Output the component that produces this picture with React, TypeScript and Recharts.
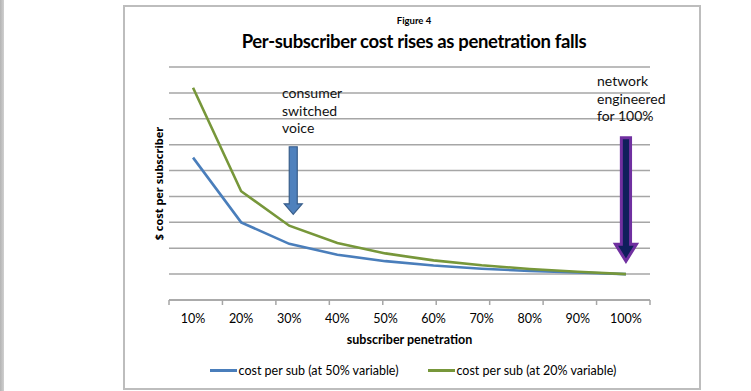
import { CartesianGrid, Legend, Line, LineChart, ReferenceLine, XAxis, YAxis } from "recharts";

const penetration = ["10%", "20%", "30%", "40%", "50%", "60%", "70%", "80%", "90%", "100%"];
const costAt50Variable = [5.5, 3.0, 2.17, 1.75, 1.5, 1.33, 1.21, 1.12, 1.06, 1.0];
const costAt20Variable = [8.2, 4.2, 2.87, 2.2, 1.8, 1.53, 1.34, 1.2, 1.09, 1.0];
const gridTicks = [0, 1, 2, 3, 4, 5, 6, 7, 8, 9];
const boundaryTicks = [0, 1, 2, 3, 4, 5, 6, 7, 8, 9, 10];

const data = penetration.map((label, i) => ({
  label,
  sub50: costAt50Variable[i],
  sub20: costAt20Variable[i],
}));

const FONT = "Lato, 'Open Sans', sans-serif";
const BLUE = "#4a7ebb";
const GREEN = "#77973a";

// ticks must be truthy or recharts drops grid lines / tick marks
const EmptyTick = () => <g />;

// block arrow pointing down, drawn between the reference line end points
function makeArrow(opts: {
  fill: string;
  stroke: string;
  strokeWidth: number;
  shaft: number;
  head: number;
  headLen: number;
  dx: number;
}) {
  return (props: any) => {
    const x = props.x1 + opts.dx;
    const top = Math.min(props.y1, props.y2);
    const tip = Math.max(props.y1, props.y2);
    const hy = tip - opts.headLen;
    const d = [
      `M${x - opts.shaft},${top}`,
      `L${x + opts.shaft},${top}`,
      `L${x + opts.shaft},${hy}`,
      `L${x + opts.head},${hy}`,
      `L${x},${tip}`,
      `L${x - opts.head},${hy}`,
      `L${x - opts.shaft},${hy}`,
      "Z",
    ].join(" ");
    return <path d={d} fill={opts.fill} stroke={opts.stroke} strokeWidth={opts.strokeWidth} />;
  };
}

const blueArrow = makeArrow({ fill: "#4f81bd", stroke: "#385d8a", strokeWidth: 1.2, shaft: 4, head: 9, headLen: 10.5, dx: 4 });
const purpleArrow = makeArrow({ fill: "#0f1f5c", stroke: "#7030a0", strokeWidth: 3, shaft: 4.6, head: 10.5, headLen: 17, dx: 0 });

function LegendContent() {
  const items = [
    { name: "cost per sub (at 50% variable)", color: BLUE },
    { name: "cost per sub (at 20% variable)", color: GREEN },
  ];
  return (
    <div style={{ display: "flex", justifyContent: "center", alignItems: "center", height: 20, fontFamily: FONT, fontSize: 12.5, color: "#000" }}>
      {items.map((it, i) => (
        <div key={it.name} style={{ display: "flex", alignItems: "center", marginLeft: i ? 29 : 0 }}>
          <span style={{ display: "inline-block", width: 27, height: 3, background: it.color, marginRight: 2 }} />
          <span>{it.name}</span>
        </div>
      ))}
    </div>
  );
}

const textStyle: React.CSSProperties = {
  position: "absolute",
  fontFamily: FONT,
  fontSize: 14,
  lineHeight: "17.5px",
  color: "#111",
};

export default function App() {
  return (
    <div style={{ position: "absolute", left: 0, top: 0, width: 751, height: 391, background: "#fff", overflow: "hidden" }}>
      <div style={{ position: "absolute", left: 0, top: 0, width: 4, height: 391, background: "linear-gradient(90deg, #b4b4b4, #d0d0d0)" }} />
      <div style={{ position: "absolute", left: 123, top: 5, width: 578, height: 385, border: "2px solid #bdbdbd", boxSizing: "border-box" }} />
      <div style={{ position: "absolute", left: 214, width: 400, top: 15, textAlign: "center", fontFamily: FONT, fontWeight: 700, fontSize: 9.5, color: "#000" }}>
        Figure 4
      </div>
      <div style={{ position: "absolute", left: 164, width: 500, top: 30, textAlign: "center", fontFamily: FONT, fontWeight: 700, fontSize: 18.5, color: "#000", letterSpacing: -0.35 }}>
        Per-subscriber cost rises as penetration falls
      </div>
      <LineChart
        width={690}
        height={391}
        data={data}
        margin={{ top: 67, right: 40, bottom: 11, left: 149 }}
        style={{ position: "absolute", left: 0, top: 0 }}
      >
        <CartesianGrid xAxisId="cat" vertical={false} stroke="#a6a6a6" strokeWidth={1.5} />
        <XAxis
          xAxisId="bounds"
          type="number"
          domain={[0, 10]}
          allowDataOverflow
          ticks={boundaryTicks}
          tick={EmptyTick}
          height={1}
          tickSize={5}
          stroke="#a6a6a6"
          strokeWidth={1.5}
        />
        <XAxis
          xAxisId="cat"
          dataKey="label"
          scale="band"
          axisLine={false}
          tickLine={false}
          height={59}
          interval={0}
          tickMargin={7}
          tick={{ fill: "#000", fontSize: 12.5, fontFamily: FONT }}
          label={{ value: "subscriber penetration", position: "insideBottom", offset: 16, fill: "#000", fontSize: 12.5, fontWeight: 700, fontFamily: FONT }}
        />
        <YAxis
          domain={[0, 9]}
          ticks={gridTicks}
          tick={EmptyTick}
          axisLine={false}
          tickLine={false}
          width={20}
          label={{ value: "$ cost per subscriber", angle: -90, position: "center", fill: "#000", fontSize: 11, fontWeight: 700, fontFamily: "'Open Sans', sans-serif" }}
        />
        <Legend verticalAlign="bottom" content={<LegendContent />} wrapperStyle={{ left: 163, width: 500 }} />
        <Line xAxisId="cat" type="linear" dataKey="sub50" name="cost per sub (at 50% variable)" stroke={BLUE} strokeWidth={2.6} dot={false} isAnimationActive={false} />
        <Line xAxisId="cat" type="linear" dataKey="sub20" name="cost per sub (at 20% variable)" stroke={GREEN} strokeWidth={2.6} dot={false} isAnimationActive={false} />
        <ReferenceLine xAxisId="cat" segment={[{ x: "30%", y: 5.92 }, { x: "30%", y: 3.31 }]} shape={blueArrow} />
        <ReferenceLine xAxisId="cat" segment={[{ x: "100%", y: 6.27 }, { x: "100%", y: 1.5 }]} shape={purpleArrow} />
      </LineChart>
      <div style={{ ...textStyle, left: 282, top: 84 }}>
        consumer
        <br />
        switched
        <br />
        voice
      </div>
      <div style={{ ...textStyle, left: 597, top: 72 }}>
        network
        <br />
        engineered
        <br />
        for 100%
      </div>
    </div>
  );
}
